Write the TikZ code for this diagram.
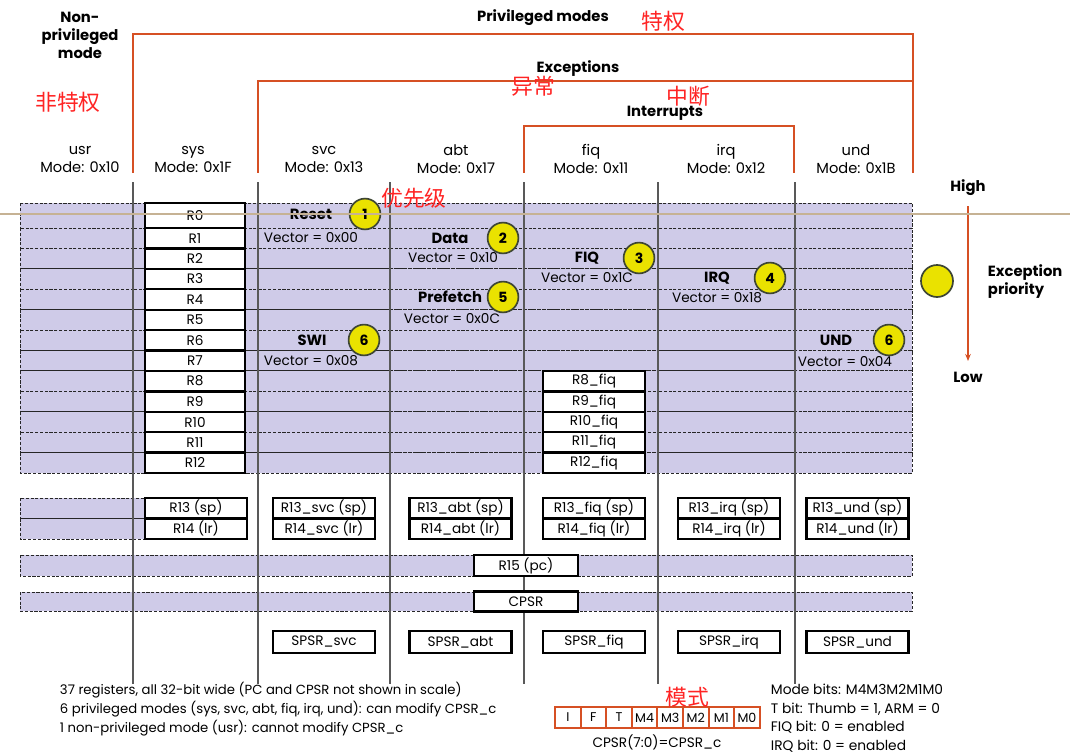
\documentclass[tikz,border=0pt]{standalone}
\usepackage{fontspec}
\setmainfont{Poppins}
\newfontfamily\cjk{Noto Sans CJK SC}
\usetikzlibrary{arrows.meta}

\definecolor{lav}{RGB}{207,203,232}
\definecolor{brk}{RGB}{214,80,36}
\definecolor{badgey}{RGB}{234,226,0}
\definecolor{rim}{RGB}{62,70,52}
\definecolor{zh}{RGB}{255,36,36}
\definecolor{seam}{RGB}{198,178,148}

\tikzset{
  cell/.style={draw=black!85, fill=lav, line width=0.6pt, dash pattern=on 2.2pt off 1.2pt},
  reg/.style={draw, fill=white, line width=1.6pt, minimum width=2.5cm, minimum height=0.51cm, inner sep=0pt, font=\fontsize{9.7}{10}\selectfont},
  hdr/.style={align=center, font=\fontsize{10.4}{12.8}\selectfont},
  bold/.style={font=\bfseries\fontsize{10.5}{12.8}\selectfont},
  badge/.style={circle, draw=rim, line width=1.2pt, fill=badgey, minimum size=0.77cm, inner sep=0pt, font=\bfseries\fontsize{10}{10}\selectfont},
  vec/.style={font=\fontsize{9.7}{10}\selectfont},
  zhnote/.style={text=zh, font=\cjk\fontsize{15.5}{15.5}\selectfont},
  bracket/.style={draw=brk, line width=2pt},
  sep/.style={draw=black!65, line width=0.9pt},
  bit/.style={draw=brk, line width=1.5pt, fill=white, minimum width=0.64cm, minimum height=0.52cm, inner sep=0pt, font=\fontsize{9}{9}\selectfont},
}

\begin{document}
\begin{tikzpicture}[x=0.025cm, y=-0.025cm]
    \fill[white] (0,0) rectangle (1070,755);
    \useasboundingbox (0,0) rectangle (1070,755);

    % mode brackets
    \draw[bracket] (133,173) -- (133,34) -- (913,34) -- (913,173);
    \draw[bracket] (258,173) -- (258,81) -- (913,81);
    \draw[bracket] (524,173) -- (524,126) -- (794,126) -- (794,173);
    \node[bold] (priv) at (543,18) {Privileged modes};
    \node[bold] (exc) at (578,69) {Exceptions};
    \node[bold] (irqs) at (665,113) {Interrupts};
    \node[bold, align=center] (nonpriv) at (80,35) {Non-\\privileged\\mode};

    % column heads
    \node[hdr] (husr) at (80,159) {usr\\Mode: 0x10};
    \node[hdr] (hsys) at (193,159) {sys\\Mode: 0x1F};
    \node[hdr] (hsvc) at (324,159) {svc\\Mode: 0x13};
    \node[hdr] (habt) at (456,159) {abt\\Mode: 0x17};
    \node[hdr] (hfiq) at (591,159) {fiq\\Mode: 0x11};
    \node[hdr] (hirq) at (726,159) {irq\\Mode: 0x12};
    \node[hdr] (hund) at (856,159) {und\\Mode: 0x1B};

    % shared rows
    \foreach \ya/\yb in {203/228,228/248.4,248.4/268.8,268.8/289.3,289.3/309.7,309.7/330.1,330.1/350.5,350.5/370.9,370.9/391.4,391.4/411.8,411.8/432.2,432.2/452.6,452.6/473} {
      \foreach \xa/\xb in {20/133,133/258,258/390,390/524,524/658,658/795,795/912}
        \draw[cell] (\xa,\ya) rectangle (\xb,\yb);
    }
    \draw[cell] (20,498) rectangle (145,518.5);
    \draw[cell] (20,518.5) rectangle (145,539);
    \draw[cell] (20,555) rectangle (912,576);
    \draw[cell] (20,592) rectangle (912,611);

    % column separators
    \foreach \x in {133,258,390,524,658,795}
      \draw[sep] (\x,182) -- (\x,684);

    % registers
    \node[reg, minimum height=0.625cm] (r0) at (195,215.5) {R0};
    \foreach \k/\yc in {1/238.2,2/258.6,3/279.0,4/299.5,5/319.9,6/340.3,7/360.7,8/381.1,9/401.6,10/422.0,11/442.4,12/462.8}
      \node[reg] (r\k) at (195,\yc) {R\k};
    \foreach \k/\yc in {8/381.1,9/401.6,10/422.0,11/442.4,12/462.8}
      \node[reg, minimum width=2.55cm] (f\k) at (594,\yc) {R\k\_fiq};

    \node[reg, minimum width=2.55cm, minimum height=0.5125cm] (spsys) at (196,508.25) {R13 (sp)};
    \node[reg, minimum width=2.55cm, minimum height=0.5125cm] (lrsys) at (196,528.75) {R14 (lr)};
    \foreach \m/\xc in {svc/324,abt/460.5,fiq/594,irq/729,und/857.5} {
      \node[reg, minimum width=2.55cm, minimum height=0.5125cm] (sp\m) at (\xc,508.25) {R13\_\m{} (sp)};
      \node[reg, minimum width=2.55cm, minimum height=0.5125cm] (lr\m) at (\xc,528.75) {R14\_\m{} (lr)};
      \node[reg, minimum width=2.55cm, minimum height=0.55cm] (spsr\m) at (\xc,642) {SPSR\_\m};
    }
    \node[reg, minimum width=2.6cm, minimum height=0.525cm] (pc) at (526,565.5) {R15 (pc)};
    \node[reg, minimum width=2.6cm, minimum height=0.5cm] (cpsr) at (526,601.5) {CPSR};

    % exceptions and priorities
    \node[bold] (reset) at (311,214) {Reset};
    \node[vec] (vreset) at (311,238) {Vector = 0x00};
    \node[badge] (b1) at (365,214) {1};
    \node[bold] (data) at (450,238) {Data};
    \node[vec] (vdata) at (453,258) {Vector = 0x10};
    \node[badge] (b2) at (503,238) {2};
    \node[bold] (pref) at (450,297) {Prefetch};
    \node[vec] (vpref) at (452,319) {Vector = 0x0C};
    \node[badge] (b5) at (503,297) {5};
    \node[bold] (swi) at (312,340) {SWI};
    \node[vec] (vswi) at (311,361) {Vector = 0x08};
    \node[badge] (b6) at (364,340) {6};
    \node[bold] (fiq) at (587,258) {FIQ};
    \node[vec] (vfiq) at (587,278) {Vector = 0x1C};
    \node[badge] (b3) at (639,258) {3};
    \node[bold] (irq) at (717,278) {IRQ};
    \node[vec] (virq) at (717,298) {Vector = 0x18};
    \node[badge] (b4) at (770,278) {4};
    \node[bold] (und) at (836,340) {UND};
    \node[vec] (vund) at (845,362) {Vector = 0x04};
    \node[badge] (b6u) at (889,340) {6};

    % priority legend
    \node[bold] (high) at (968,188) {High};
    \node[bold] (low) at (968,377) {Low};
    \coordinate (ptop) at (968,206);
    \coordinate (pbot) at (968,361);
    \draw[brk, line width=1.2pt, -{Stealth[length=5pt,width=4pt]}] (ptop) -- (pbot);
    \node[badge, minimum size=0.8cm] (bkey) at (937,281) {};
    \node[bold, align=left, anchor=west] (prio) at (983,282) {Exception\\priority};

    % notes
    \node[anchor=west, align=left, font=\fontsize{9.4}{13.5}\selectfont] (notes) at (55,709) {37 registers, all 32-bit wide (PC and CPSR not shown in scale)\\6 privileged modes (sys, svc, abt, fiq, irq, und): can modify CPSR\_c\\1 non-privileged mode (usr): cannot modify CPSR\_c};
    \foreach \b [count=\i from 0] in {I,F,T,M4,M3,M2,M1,M0}
      \node[bit] (bit\i) at (567.8+25.6*\i,717.5) {\b};
    \node[font=\fontsize{9.7}{10}\selectfont] (cpsrc) at (657,742) {CPSR(7:0)=CPSR\_c};
    \node[anchor=west, align=left, font=\fontsize{9.8}{13.2}\selectfont] (bits) at (766,718) {Mode bits: M4M3M2M1M0\\T bit: Thumb = 1, ARM = 0\\FIQ bit: 0 = enabled\\IRQ bit: 0 = enabled};

    % annotations
    \node[zhnote] (zh1) at (68,102) {非特权};
    \node[zhnote] (zh2) at (663,21) {特权};
    \node[zhnote] (zh3) at (533,86) {异常};
    \node[zhnote] (zh4) at (688,96) {中断};
    \node[zhnote] (zh5) at (414,198) {优先级};
    \node[zhnote] (zh6) at (687,697) {模式};
    \draw[seam, line width=1.4pt] (0,214) -- (1070,214);
\end{tikzpicture}
\end{document}
